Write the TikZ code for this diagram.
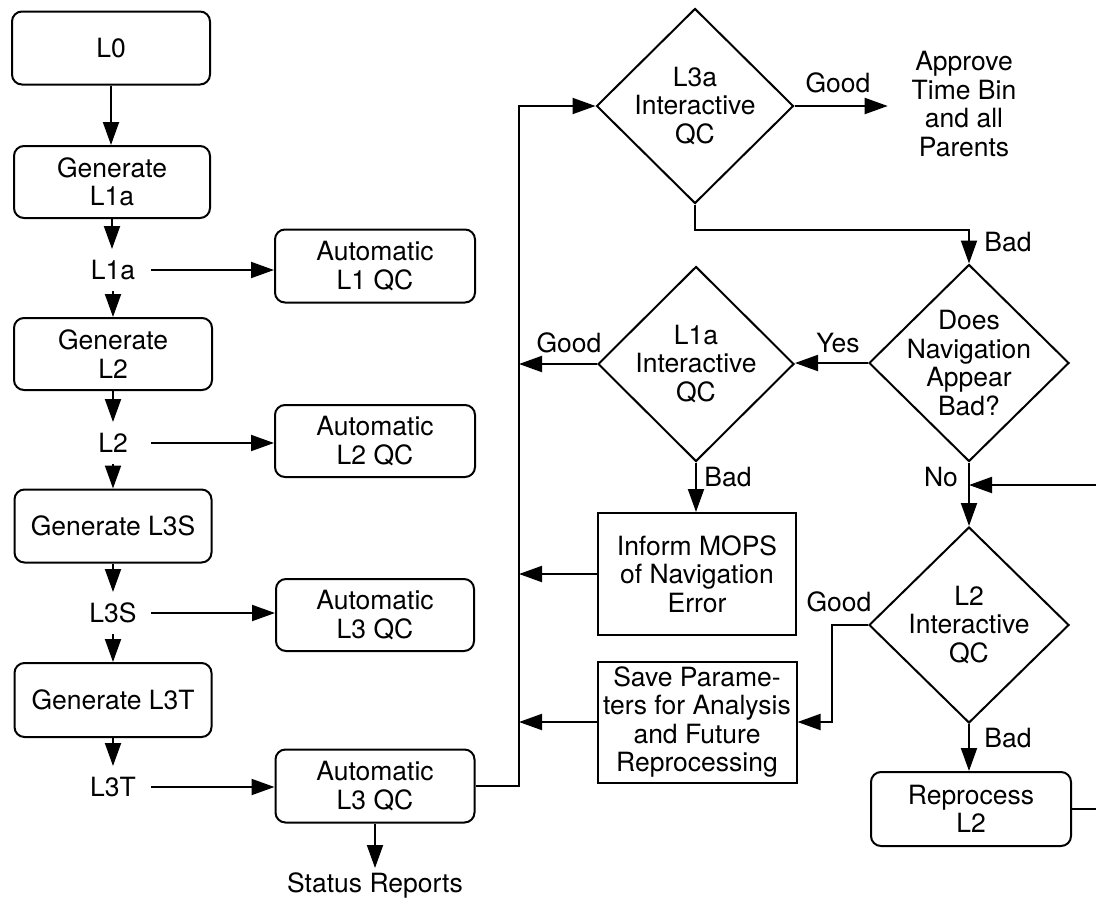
\documentclass[tikz,border=0pt]{standalone}
\usepackage{fontspec}
\setmainfont{TeX Gyre Heros}
\usetikzlibrary{shapes.geometric,arrows.meta}
\begin{document}
\begin{tikzpicture}[x=1pt,y=-1pt,
  every node/.style={font=\fontsize{26.5}{28.5}\selectfont},
  line width=2pt,
  arr/.style={-{Triangle[length=23pt,width=16pt]}},
  rbox/.style={draw, rounded corners=10pt, align=center, inner sep=0pt},
  sbox/.style={draw, align=center, inner sep=0pt},
  dia/.style={draw, diamond, inner sep=0pt},
  lbl/.style={inner sep=0pt, minimum width=74pt, minimum height=40pt},
  txt/.style={inner sep=0pt, align=center}]
\useasboundingbox (0,0) rectangle (1096,900);

% left column
\node[rbox, minimum width=198pt, minimum height=73pt] (L0) at (111,48) {L0};
\node[rbox, minimum width=196pt, minimum height=72pt] (g1) at (112,182) {Generate\\L1a};
\node[lbl] (t1) at (113,270) {L1a};
\node[rbox, minimum width=200pt, minimum height=73pt] (a1) at (375,266) {Automatic\\L1 QC};
\node[rbox, minimum width=198pt, minimum height=72pt] (g2) at (113,354) {Generate\\L2};
\node[lbl] (t2) at (113,443) {L2};
\node[rbox, minimum width=200pt, minimum height=72pt] (a2) at (375,441) {Automatic\\L2 QC};
\node[rbox, minimum width=197pt, minimum height=73pt] (g3s) at (113,526) {Generate L3S};
\node[lbl] (t3s) at (113,613) {L3S};
\node[rbox, minimum width=198pt, minimum height=72pt] (a3s) at (375,615) {Automatic\\L3 QC};
\node[rbox, minimum width=197pt, minimum height=74pt] (g3t) at (113,700) {Generate L3T};
\node[lbl] (t3t) at (113,787) {L3T};
\node[rbox, minimum width=199pt, minimum height=73pt] (a3t) at (375,786) {Automatic\\L3 QC};
\node[txt, anchor=north, inner ysep=4pt] (status) at (375,868) {Status Reports};

% right part
\coordinate (bus) at (519,786);
\node[dia, minimum width=197pt, minimum height=195pt] (l3a) at (695,106) {};
\node[txt] (l3at) at (l3a) {L3a\\Interactive\\QC};
\node[txt, inner xsep=23pt] (appr) at (964,104) {Approve\\Time Bin\\and all\\Parents};
\node[dia, minimum width=200pt, minimum height=197pt] (nav) at (969,363) {};
\node[txt] (navt) at (nav) {Does\\Navigation\\Appear\\Bad?};
\node[dia, minimum width=196pt, minimum height=195pt] (l1q) at (696,364) {};
\node[txt] (l1qt) at (l1q) {L1a\\Interactive\\QC};
\node[sbox, minimum width=198pt, minimum height=122pt] (inf) at (697,574) {Inform MOPS\\of Navigation\\Error};
\node[sbox, minimum width=199pt, minimum height=121pt] (save) at (697,722) {Save Parame-\\ters for Analysis\\and Future\\Reprocessing};
\node[dia, minimum width=200pt, minimum height=196pt] (l2q) at (969,625) {};
\node[txt] (l2qt) at (l2q) {L2\\Interactive\\QC};
\node[rbox, minimum width=200pt, minimum height=74pt] (rep) at (971,809) {Reprocess\\L2};

% edge labels
\node[txt] (good1) at (838,83) {Good};
\node[txt] (bad1) at (1008,242) {Bad};
\node[txt] (yes) at (838,343) {Yes};
\node[txt] (good2) at (569,343) {Good};
\node[txt] (bad2) at (728,477) {Bad};
\node[txt] (no) at (941,477) {No};
\node[txt] (good3) at (839,602) {Good};
\node[txt] (bad3) at (1008,738) {Bad};

% connectors left
\draw[arr] (L0.south) -- (L0.south |- g1.north);
\draw[arr] (g1.south) -- (g1.south |- t1.north);
\draw[arr] (t1.south) -- (t1.south |- g2.north);
\draw[arr] (t1.east) -- (t1.east -| a1.west);
\draw[arr] (g2.south) -- (g2.south |- t2.north);
\draw[arr] (t2.south) -- (t2.south |- g3s.north);
\draw[arr] (t2.east) -- (t2.east -| a2.west);
\draw[arr] (g3s.south) -- (g3s.south |- t3s.north);
\draw[arr] (t3s.south) -- (t3s.south |- g3t.north);
\draw[arr] (t3s.east) -- (t3s.east -| a3s.west);
\draw[arr] (g3t.south) -- (g3t.south |- t3t.north);
\draw[arr] (t3t.east) -- (t3t.east -| a3t.west);
\draw[arr] (a3t.south) -- (status.north);

% connectors right
\draw[arr] (a3t.east) -- (bus) |- (l3a.west);
\draw[arr] (l3a.east) -- (l3a.east -| appr.west);
\draw[arr] (l3a.south) -- ++(0,25) -| (nav.north);
\draw[arr] (nav.west) -- (nav.west -| l1q.east);
\draw[arr] (l1q.west) -- (l1q.west -| bus);
\draw[arr] (l1q.south) -- (l1q.south |- inf.north);
\draw[arr] (inf.west) -- (inf.west -| bus);
\draw[arr] (nav.south) -- (nav.south |- l2q.north);
\coordinate (rin) at (969,485);
\coordinate (rout) at (1120,485);
\draw[arr] (rep.east) -| (rout) -- (rin);
\draw[arr] (l2q.west) -- ++(-36,0) |- (save.east);
\draw[arr] (save.west) -- (save.west -| bus);
\draw[arr] (l2q.south) -- (l2q.south |- rep.north);
\end{tikzpicture}
\end{document}
